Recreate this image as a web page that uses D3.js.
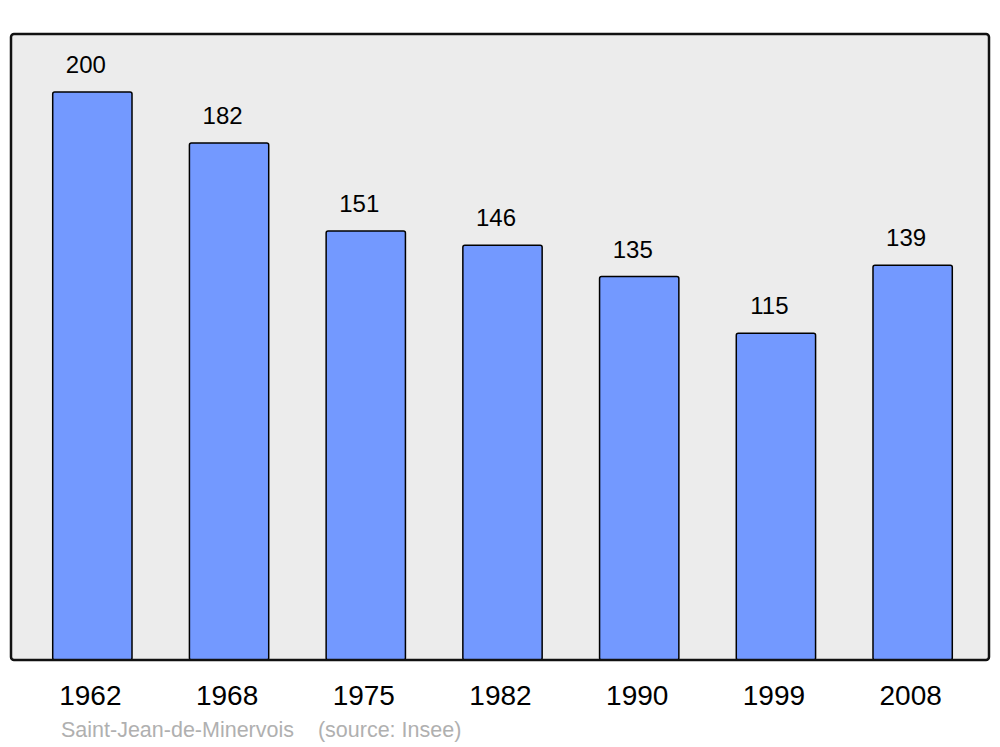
<!DOCTYPE html>
<html>
<head>
<meta charset="utf-8">
<script src="https://cdn.jsdelivr.net/npm/d3@7"></script>
<style>
  body { margin: 0; background: #fff; }
  text { font-family: "Liberation Sans", Arial, sans-serif; }
</style>
</head>
<body>
<div id="chart"></div>
<script>
// population by census year
var years = ["1962", "1968", "1975", "1982", "1990", "1999", "2008"];
var population = [200, 182, 151, 146, 135, 115, 139];
var caption = "Saint-Jean-de-Minervois    (source: Insee)";

var w = 1000, h = 747;
var frame = {left: 11, right: 989, top: 34, bottom: 660};

var svg = d3.select("#chart").append("svg")
  .attr("width", w)
  .attr("height", h);

//plot background
svg.append("rect")
  .attr("x", frame.left)
  .attr("y", frame.top)
  .attr("width", frame.right - frame.left)
  .attr("height", frame.bottom - frame.top)
  .attr("rx", 3)
  .attr("fill", "#ececec");

var x = d3.scaleBand()
  .domain(years)
  .range([24, 981])
  .paddingInner(0.42)
  .paddingOuter(0.21);

var y = d3.scaleLinear()
  .domain([0, 220.4])
  .range([frame.bottom, frame.top]);

var data = years.map(function(d, i) { return {year: d, value: population[i]}; });

//bars
svg.append("g").selectAll("rect")
  .data(data)
  .enter()
  .append("rect")
  .attr("x", function(d) { return x(d.year); })
  .attr("y", function(d) { return y(d.value); })
  .attr("width", x.bandwidth())
  .attr("height", function(d) { return frame.bottom - y(d.value); })
  .attr("rx", 2)
  .attr("fill", "#7399ff")
  .attr("stroke", "#000")
  .attr("stroke-width", 1.5);

//value labels
svg.append("g").selectAll("text")
  .data(data)
  .enter()
  .append("text")
  .attr("x", function(d) { return x(d.year) + x.bandwidth() / 2 - 6.5; })
  .attr("y", function(d) { return y(d.value) - 19; })
  .attr("text-anchor", "middle")
  .attr("font-size", 24)
  .attr("fill", "#000")
  .text(function(d) { return d.value; });

//frame border on top of bars
svg.append("rect")
  .attr("x", frame.left)
  .attr("y", frame.top)
  .attr("width", frame.right - frame.left)
  .attr("height", frame.bottom - frame.top)
  .attr("rx", 3)
  .attr("fill", "none")
  .attr("stroke", "#111")
  .attr("stroke-width", 2.5);

//year axis
var axis = svg.append("g")
  .attr("transform", "translate(-2," + frame.bottom + ")")
  .call(d3.axisBottom(x).tickSize(0).tickPadding(0));
axis.select(".domain").remove();
axis.selectAll("text")
  .attr("y", 45)
  .attr("dy", 0)
  .attr("font-size", 28)
  .attr("font-family", "'Liberation Sans', Arial, sans-serif")
  .attr("fill", "#000");

//source caption
svg.append("text")
  .attr("x", 61)
  .attr("y", 737)
  .attr("font-size", 21.5)
  .attr("fill", "#b0b0b0")
  .attr("xml:space", "preserve")
  .style("white-space", "pre")
  .text(caption);
</script>
</body>
</html>
